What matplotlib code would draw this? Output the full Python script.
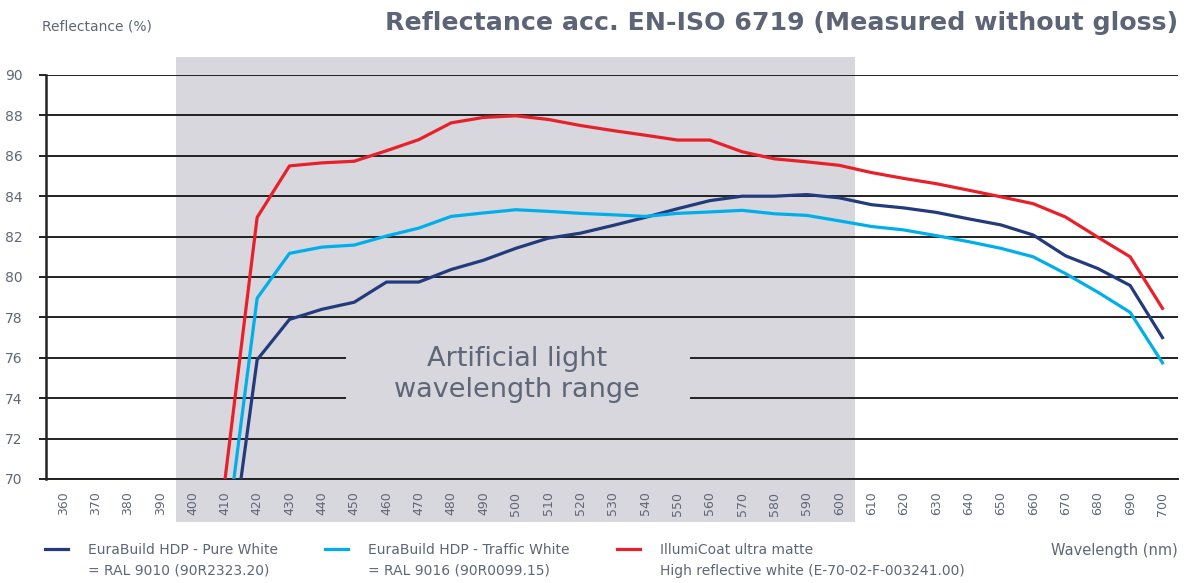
import matplotlib
matplotlib.use("Agg")
from matplotlib import pyplot as plt
from matplotlib.patches import Rectangle
from matplotlib.legend_handler import HandlerLine2D
import matplotlib.transforms as mtransforms
import numpy as np

wavelengths = np.arange(360, 701, 10)
data_x = list(range(410, 701, 10))

# EuraBuild HDP - Pure White (RAL 9010)
pure_white = [64.1, 75.9, 77.9, 78.4, 78.75, 79.75, 79.75, 80.37, 80.83, 81.42,
              81.92, 82.17, 82.55, 82.95, 83.38, 83.78, 84.0, 84.0, 84.08, 83.92,
              83.58, 83.42, 83.2, 82.88, 82.58, 82.08, 81.05, 80.42, 79.58, 77.0]
# EuraBuild HDP - Traffic White (RAL 9016)
traffic_white = [66.5, 78.95, 81.17, 81.48, 81.58, 82.03, 82.42, 83.0, 83.17, 83.33,
                 83.25, 83.15, 83.08, 83.0, 83.15, 83.22, 83.3, 83.13, 83.05, 82.78,
                 82.5, 82.33, 82.05, 81.75, 81.42, 81.0, 80.17, 79.25, 78.25, 75.75]
# IllumiCoat ultra matte
illumicoat = [69.9, 82.95, 85.5, 85.65, 85.73, 86.25, 86.8, 87.63, 87.9, 87.98,
              87.8, 87.5, 87.25, 87.02, 86.78, 86.78, 86.2, 85.85, 85.7, 85.53,
              85.17, 84.88, 84.62, 84.3, 83.97, 83.63, 82.97, 81.97, 81.0, 78.45]

labels = ["EuraBuild HDP - Pure White\n= RAL 9010 (90R2323.20)",
          "EuraBuild HDP - Traffic White\n= RAL 9016 (90R0099.15)",
          "IllumiCoat ultra matte\nHigh reflective white (E-70-02-F-003241.00)"]
colors = ["#233a7c", "#00aeea", "#e8202a"]

text_color = "#5f6677"
shade = "#d7d7dd"


class TopLineHandler(HandlerLine2D):
    # put the legend stroke level with the first text line
    def create_artists(self, legend, orig_handle, xdescent, ydescent, width,
                       height, fontsize, trans):
        arts = super().create_artists(legend, orig_handle, xdescent, ydescent,
                                      width, height, fontsize, trans)
        for a in arts:
            a.set_ydata(np.asarray(a.get_ydata()) + 0.85 * fontsize)
        return arts


fig = plt.figure(figsize=(11.89, 5.83), dpi=100)
ax = fig.add_axes([46 / 1189, 1 - 479 / 583, (1178 - 46) / 1189, 404 / 583])

# artificial light range band (extends past the axes)
trans = mtransforms.blended_transform_factory(ax.transData, ax.transAxes)
band = Rectangle((395, -0.106), 210, 1.151, transform=trans, facecolor=shade,
                 edgecolor="none", clip_on=False, zorder=0.1)
ax.add_patch(band)

ax.set_axisbelow(True)
ax.grid(axis="y", color="#222222", linewidth=1.4)
ax.grid(axis="x", visible=False)

lines = []
for vals, c, lab in zip([pure_white, traffic_white, illumicoat], colors, labels):
    ln, = ax.plot(data_x, vals, color=c, linewidth=2.3, label=lab, zorder=3)
    lines.append(ln)

# box behind the label to break the grid lines
ax.add_patch(Rectangle((447.5, 73.2), 106.5, 3.6, facecolor=shade,
                       edgecolor="none", zorder=2))
ax.text(500.5, 75.15, "Artificial light\nwavelength range", ha="center",
        va="center", fontsize=19.5, color=text_color, linespacing=1.25, zorder=3)

ax.set_xlim(354.7, 704.8)
ax.set_ylim(70, 90)
ax.set_xticks(wavelengths)
ax.set_xticklabels([str(w) for w in wavelengths], rotation=90, va="top")
ax.set_yticks(range(70, 91, 2))
ax.tick_params(axis="x", length=0, pad=9, labelsize=9, labelcolor=text_color)
ax.tick_params(axis="y", length=5, width=1.4, color="#222222", pad=12,
               labelsize=10, labelcolor=text_color)
for s in ["top", "right"]:
    ax.spines[s].set_visible(False)
ax.spines["left"].set_color("#222222")
ax.spines["left"].set_linewidth(1.8)
ax.spines["bottom"].set_color("#222222")
ax.spines["bottom"].set_linewidth(1.4)

fig.text(42 / 1189, 1 - 27 / 583, "Reflectance (%)", fontsize=10,
         color=text_color, va="center", ha="left")
fig.text(1178 / 1189, 1 - 23 / 583,
         "Reflectance acc. EN-ISO 6719 (Measured without gloss)",
         fontsize=18.2, fontweight="bold", color="#5d6475", ha="right",
         va="center")
fig.text(1178 / 1189, 1 - 551 / 583, "Wavelength (nm)", fontsize=10.5,
         color=text_color, ha="right", va="center")

leg = fig.legend(handles=lines, loc="upper left",
                 bbox_to_anchor=(45 / 1189, 1 - 543 / 583), ncol=3,
                 frameon=False, fontsize=10, handlelength=1.66,
                 handletextpad=1.44, columnspacing=3.4, labelcolor=text_color,
                 borderaxespad=0, borderpad=0,
                 handler_map={lines[0].__class__: TopLineHandler()})
for t in leg.get_texts():
    t.set_linespacing(1.6)

fig.savefig("out.png", dpi=100)
